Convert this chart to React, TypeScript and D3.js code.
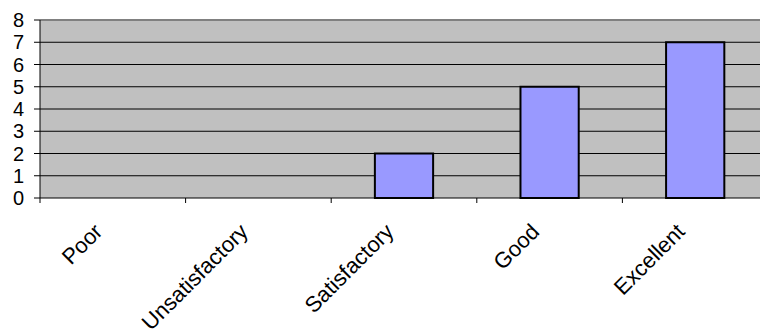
import React from "react";
import * as d3 from "d3";

const categories = ["Poor", "Unsatisfactory", "Satisfactory", "Good", "Excellent"];
const counts = [0, 0, 2, 5, 7];
const yTicks = [0, 1, 2, 3, 4, 5, 6, 7, 8];

const W = 760;
const H = 332;
const left = 40;
const right = 768;
const top = 20;
const bottom = 198;

export default function App() {
  const x = d3
    .scaleBand<string>()
    .domain(categories)
    .range([left, right])
    .paddingInner(0.6)
    .paddingOuter(0.3);
  const y = d3.scaleLinear().domain([0, 8]).range([bottom, top]);
  const step = x.step();
  const boundaries = d3.range(categories.length + 1).map((i) => left + i * step);

  return (
    <svg
      width={W}
      height={H}
      style={{ position: "absolute", left: 0, top: 0, fontFamily: "Liberation Sans, Arial, sans-serif" }}
    >
      <rect x={left} y={top} width={right - left} height={bottom - top} fill="#C0C0C0" />
      {yTicks.slice(1, -1).map((t) => (
        <line key={t} x1={left} x2={right} y1={y(t)} y2={y(t)} stroke="#000" strokeWidth={1} />
      ))}
      <line x1={left} x2={right} y1={y(8)} y2={y(8)} stroke="#808080" strokeWidth={2} />
      {categories.map((c, i) => (
        <rect
          key={c}
          x={x(c)}
          y={y(counts[i])}
          width={x.bandwidth()}
          height={bottom - y(counts[i])}
          fill="#9999FF"
          stroke="#000"
          strokeWidth={2}
          visibility={counts[i] > 0 ? "visible" : "hidden"}
        />
      ))}
      <line x1={left} x2={left} y1={top} y2={bottom} stroke="#000" strokeWidth={1} />
      <line x1={left} x2={right} y1={bottom} y2={bottom} stroke="#000" strokeWidth={1} />
      {yTicks.map((t) => (
        <g key={t}>
          <line x1={left - 6} x2={left} y1={y(t)} y2={y(t)} stroke="#000" strokeWidth={1} />
          <text x={24} y={y(t)} dy="0.36em" textAnchor="end" fontSize={20} fill="#000">
            {t}
          </text>
        </g>
      ))}
      {boundaries.map((b, i) => (
        <line key={i} x1={b} x2={b} y1={bottom} y2={bottom + 5} stroke="#000" strokeWidth={1} />
      ))}
      {categories.map((c) => {
        const cx = (x(c) as number) + x.bandwidth() / 2;
        return (
          <text
            key={c}
            transform={`translate(${cx - 9},${233}) rotate(-45)`}
            textAnchor="end"
            fontSize={22}
            fill="#000"
          >
            {c}
          </text>
        );
      })}
    </svg>
  );
}
